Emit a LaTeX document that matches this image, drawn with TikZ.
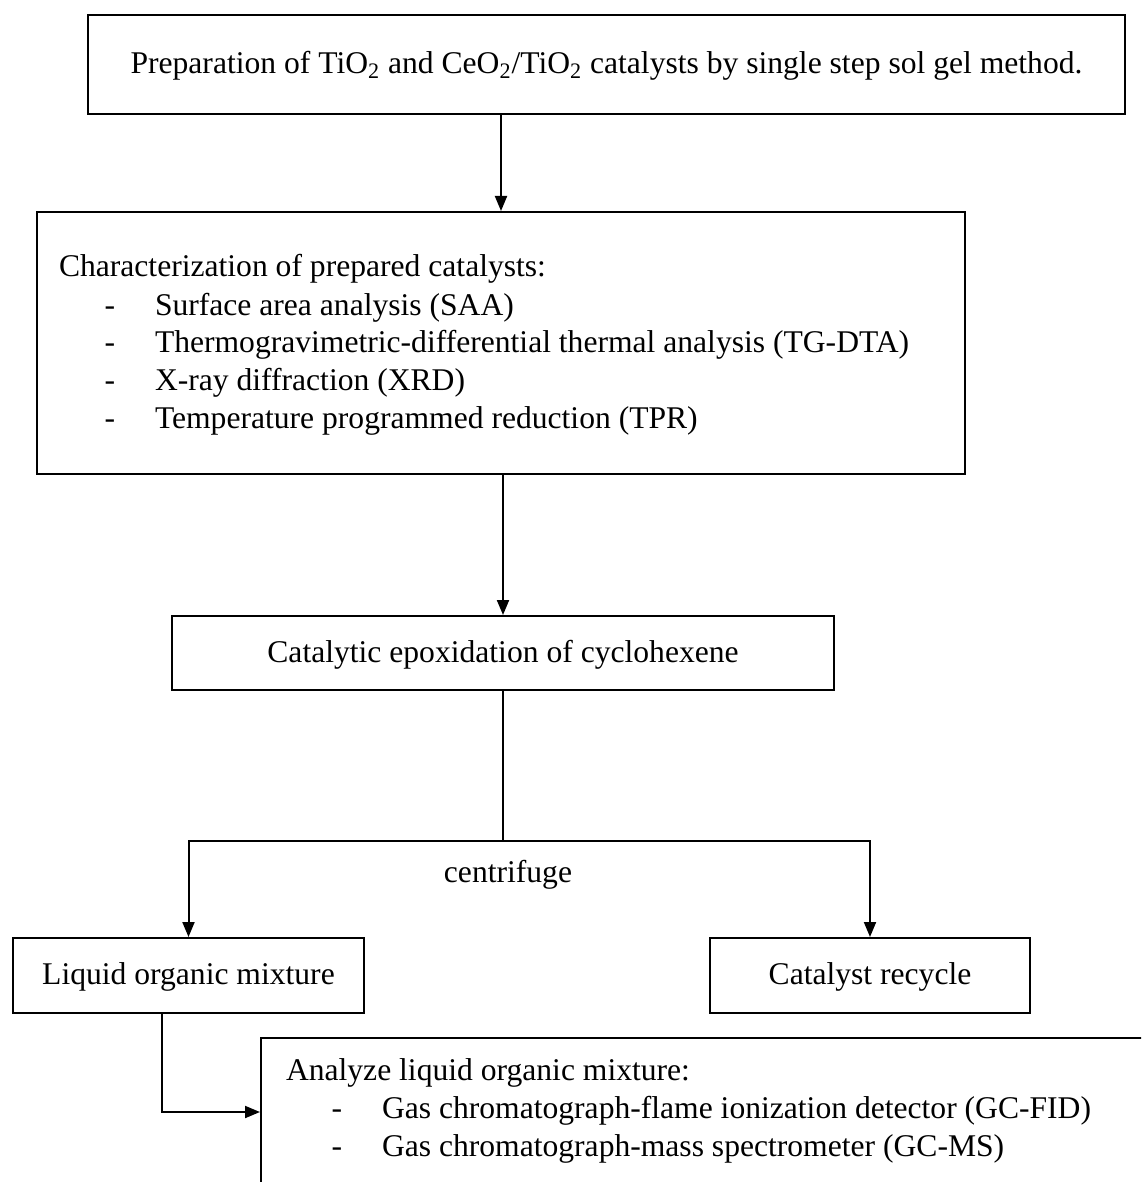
\documentclass[tikz,border=0pt]{standalone}
\usepackage{fontspec}
\setmainfont{Liberation Serif}
\usetikzlibrary{arrows.meta}

\begin{document}
\begin{tikzpicture}[x=0.5pt, y=-0.5pt, line width=1pt, >={Triangle[length=7.5pt, width=6pt]},
  every node/.style={font=\fontsize{15.8}{19}\selectfont},
  box/.style={rectangle, draw, inner sep=0pt, text height=11.5pt, text depth=2.5pt},
  txt/.style={anchor=base west, inner sep=0pt},
  mid/.style={anchor=base, inner sep=0pt}]
\useasboundingbox (0,0) rectangle (1141,1182);
\clip (0,0) rectangle (1141,1182);

\node[box, minimum width=518.5pt, minimum height=49.5pt] (prep) at (606.5,64.5) {Preparation of TiO\textsubscript{2} and CeO\textsubscript{2}/TiO\textsubscript{2} catalysts by single step sol gel method.};

\node[box, minimum width=464pt, minimum height=131pt] (charac) at (501,343) {};
\node[txt] (charhead) at (58,276) {Characterization of prepared catalysts:};
\node[mid] (d1) at (110,315) {-};
\node[txt] (saa) at (154,315) {Surface area analysis (SAA)};
\node[mid] (d2) at (110,352) {-};
\node[txt] (tgdta) at (154,352) {Thermogravimetric-differential thermal analysis (TG-DTA)};
\node[mid] (d3) at (110,390) {-};
\node[txt] (xrd) at (154,390) {X-ray diffraction (XRD)};
\node[mid] (d4) at (110,428) {-};
\node[txt] (tpr) at (154,428) {Temperature programmed reduction (TPR)};

\node[box, minimum width=331pt, minimum height=37pt] (epox) at (503,653) {Catalytic epoxidation of cyclohexene};
\coordinate (split) at (503,841);
\node[mid] (centri) at (508,882) {centrifuge};

\node[box, minimum width=175.5pt, minimum height=37.5pt] (liquid) at (188.5,975.5) {Liquid organic mixture};
\node[box, minimum width=160pt, minimum height=37.5pt] (recycle) at (870,975.5) {Catalyst recycle};

\node[box, minimum width=600pt, minimum height=200pt] (analyze) at (861,1238) {};
\node[txt] (anahead) at (285,1080) {Analyze liquid organic mixture:};
\node[mid] (d5) at (337,1118) {-};
\node[txt] (gcfid) at (381,1118) {Gas chromatograph-flame ionization detector (GC-FID)};
\node[mid] (d6) at (337,1156) {-};
\node[txt] (gcms) at (381,1156) {Gas chromatograph-mass spectrometer (GC-MS)};
\coordinate (bend) at (162,1112);

\draw[->] (prep.south -| charac.north) -- (charac.north);
\draw[->] (charac.south -| epox.north) -- (epox.north);
\draw (epox.south) -- (split);
\draw[->] (split) -| (liquid.north);
\draw[->] (split) -| (recycle.north);
\draw[->] (liquid.south -| bend) |- (analyze.west |- bend);
\end{tikzpicture}
\end{document}
